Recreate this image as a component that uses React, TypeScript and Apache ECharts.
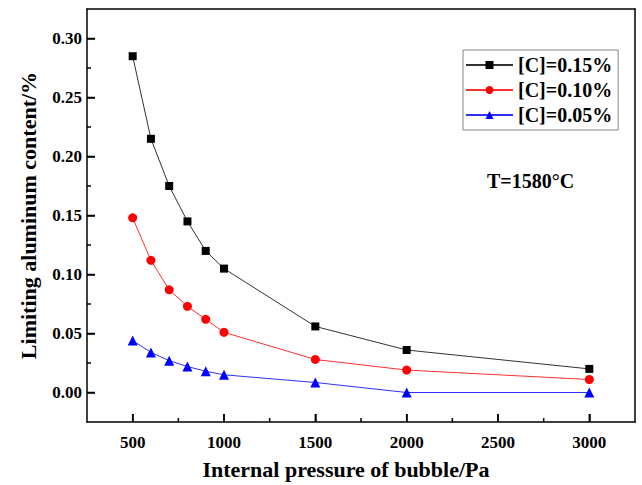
import React, { useEffect, useRef } from "react";
import * as echarts from "echarts";

const pressures = [500, 600, 700, 800, 900, 1000, 1500, 2000, 3000];
const c015 = [0.285, 0.215, 0.175, 0.145, 0.12, 0.105, 0.056, 0.036, 0.02];
const c010 = [0.148, 0.112, 0.087, 0.073, 0.062, 0.051, 0.028, 0.019, 0.011];
const c005 = [0.044, 0.034, 0.027, 0.022, 0.018, 0.015, 0.0085, 0.0, 0.0];
const seriesNames = ["[C]=0.15%", "[C]=0.10%", "[C]=0.05%"];
const xMajor = [500, 1000, 1500, 2000, 2500, 3000];
const xMinor = [750, 1250, 1750, 2250, 2750];
const yMajor = [0, 0.05, 0.1, 0.15, 0.2, 0.25, 0.3];
const yMinor = [0.025, 0.075, 0.125, 0.175, 0.225, 0.275];

const FONT = "'Liberation Serif', 'Times New Roman', serif";
const X_MIN = 250;
const X_MAX = 3250;
const Y_MIN = -0.025;
const Y_MAX = 0.325;

export default function App() {
  const ref = useRef<HTMLDivElement>(null);
  useEffect(() => {
    if (!ref.current) return;
    const chart = echarts.init(ref.current, null, { renderer: "svg" });
    const mk = (d: number[]) => pressures.map((p, i) => [p, d[i]]);
    const line = { show: true, onZero: false, lineStyle: { color: "#000", width: 1.5 } };
    const tickStyle = { color: "#000", width: 1.5 };

    chart.setOption({
      animation: false,
      backgroundColor: "#fff",
      grid: { left: 87, right: 7, top: 9, bottom: 59, show: false },
      legend: {
        orient: "vertical",
        left: 463,
        top: 50,
        itemWidth: 47,
        itemHeight: 10,
        itemGap: 5,
        padding: [5, 6, 5, 2],
        borderColor: "#888",
        borderWidth: 1,
        data: seriesNames,
        textStyle: { fontFamily: FONT, fontWeight: "bold", fontSize: 20, color: "#000" },
      },
      xAxis: [
        {
          type: "value",
          min: X_MIN,
          max: X_MAX,
          position: "bottom",
          axisLine: line,
          splitLine: { show: false },
          axisTick: { show: true, inside: true, length: 8, customValues: xMajor, lineStyle: tickStyle },
          axisLabel: {
            show: true,
            customValues: xMajor,
            margin: 12,
            formatter: (v: number) => String(v),
            fontFamily: FONT,
            fontWeight: "bold",
            fontSize: 17,
            color: "#000",
          },
          name: "Internal pressure of bubble/Pa",
          nameLocation: "middle",
          nameGap: 36,
          nameTextStyle: { fontFamily: FONT, fontWeight: "bold", fontSize: 22, color: "#000", padding: [0, 30, 0, 0] },
        },
        {
          type: "value",
          min: X_MIN,
          max: X_MAX,
          position: "top",
          axisLine: line,
          splitLine: { show: false },
          axisTick: { show: false },
          axisLabel: { show: false },
        },
      ],
      yAxis: [
        {
          type: "value",
          min: Y_MIN,
          max: Y_MAX,
          position: "left",
          axisLine: line,
          splitLine: { show: false },
          axisTick: { show: true, inside: true, length: 8, customValues: yMajor, lineStyle: tickStyle },
          axisLabel: {
            show: true,
            customValues: yMajor,
            margin: 5,
            formatter: (v: number) => v.toFixed(2),
            fontFamily: FONT,
            fontWeight: "bold",
            fontSize: 17,
            color: "#000",
          },
          name: "Limiting aluminum content/%",
          nameLocation: "middle",
          nameGap: 48,
          nameTextStyle: { fontFamily: FONT, fontWeight: "bold", fontSize: 22, color: "#000" },
        },
        {
          type: "value",
          min: Y_MIN,
          max: Y_MAX,
          position: "right",
          axisLine: line,
          splitLine: { show: false },
          axisTick: { show: false },
          axisLabel: { show: false },
        },
      ],
      series: [
        {
          name: seriesNames[0],
          type: "line",
          data: mk(c015),
          symbol: "rect",
          symbolSize: 8,
          itemStyle: { color: "#000" },
          lineStyle: { color: "#333", width: 1 },
        },
        {
          name: seriesNames[1],
          type: "line",
          data: mk(c010),
          symbol: "circle",
          symbolSize: 9,
          itemStyle: { color: "#ff0000" },
          lineStyle: { color: "#ff3030", width: 1 },
        },
        {
          name: seriesNames[2],
          type: "line",
          data: mk(c005),
          symbol: "triangle",
          symbolSize: 10,
          itemStyle: { color: "#0000ff" },
          lineStyle: { color: "#3030ff", width: 1 },
        },
      ],
    });

    const yBottom = chart.convertToPixel({ yAxisIndex: 0 }, Y_MIN) as number;
    const xLeft = chart.convertToPixel({ xAxisIndex: 0 }, X_MIN) as number;
    const els: any[] = [];
    const addX = (vals: number[], len: number) =>
      vals.forEach((v) => {
        const x = chart.convertToPixel({ xAxisIndex: 0 }, v) as number;
        els.push({
          type: "line",
          z: 100,
          silent: true,
          shape: { x1: x, y1: yBottom, x2: x, y2: yBottom - len },
          style: { stroke: "#000", lineWidth: 1.5 },
        });
      });
    const addY = (vals: number[], len: number) =>
      vals.forEach((v) => {
        const y = chart.convertToPixel({ yAxisIndex: 0 }, v) as number;
        els.push({
          type: "line",
          z: 100,
          silent: true,
          shape: { x1: xLeft, y1: y, x2: xLeft + len, y2: y },
          style: { stroke: "#000", lineWidth: 1.5 },
        });
      });
    addX(xMajor, 8);
    addX(xMinor, 4);
    addY(yMajor, 8);
    addY(yMinor, 4);
    els.push({
      type: "text",
      left: 487,
      top: 171,
      z: 100,
      style: { text: "T=1580°C", font: `bold 20px ${FONT}`, fill: "#000" },
    });
    chart.setOption({ graphic: els });

    return () => chart.dispose();
  }, []);
  return <div ref={ref} style={{ width: 642, height: 485, position: "absolute", left: 0, top: 0 }} />;
}
